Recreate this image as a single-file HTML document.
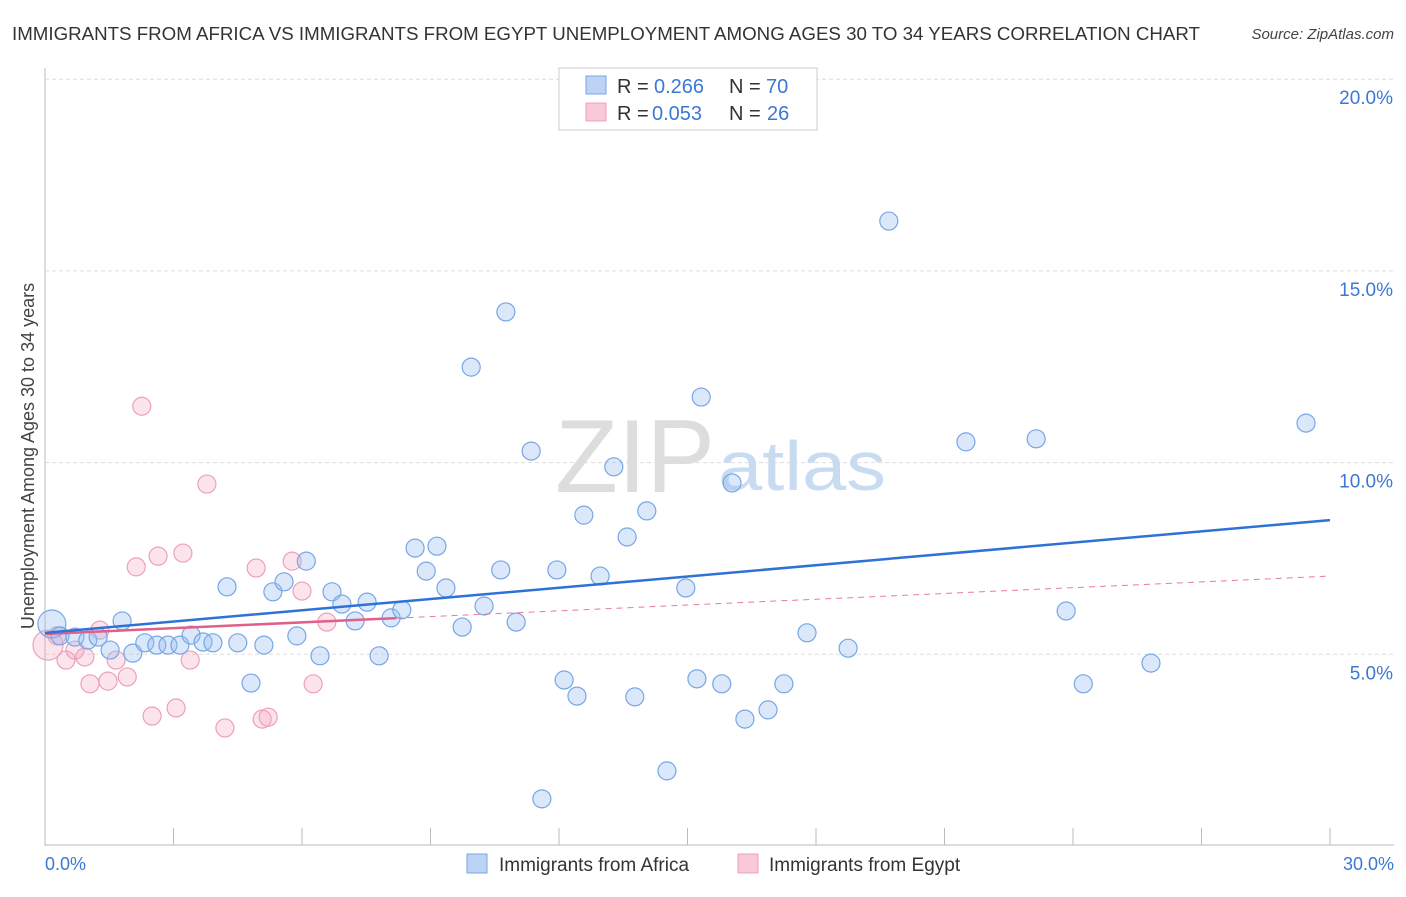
<!DOCTYPE html>
<html><head><meta charset="utf-8"><style>
body{margin:0;background:#fff;font-family:"Liberation Sans",sans-serif;}
svg text{font-family:"Liberation Sans",sans-serif;}
</style></head><body>
<svg width="1406" height="892" xmlns="http://www.w3.org/2000/svg">
<text x="12" y="40" font-size="18.6" fill="#333" textLength="1188" lengthAdjust="spacingAndGlyphs">IMMIGRANTS FROM AFRICA VS IMMIGRANTS FROM EGYPT UNEMPLOYMENT AMONG AGES 30 TO 34 YEARS CORRELATION CHART</text>
<text x="1394" y="39" font-size="15" font-style="italic" fill="#444" text-anchor="end">Source: ZipAtlas.com</text>
<g id="grid"></g>
<text x="715" y="492" font-size="104" font-family="Liberation Serif" fill="#ddd" text-anchor="end" textLength="160" lengthAdjust="spacingAndGlyphs">ZIP</text>
<text x="718" y="490" font-size="70" fill="#c9dbf0" textLength="168" lengthAdjust="spacingAndGlyphs">atlas</text>
<g id="pts"></g>
<g id="trend"></g>
<text transform="translate(34,456) rotate(-90)" font-size="18" fill="#444" text-anchor="middle">Unemployment Among Ages 30 to 34 years</text>
<text x="45" y="870" font-size="18" fill="#3b78d4">0.0%</text>
<text x="1394" y="870" font-size="18" fill="#3b78d4" text-anchor="end">30.0%</text>
<g>
<rect x="559" y="68" width="258" height="62" fill="#fff" stroke="#ccc"/>
<rect x="586" y="76" width="20" height="18" fill="#bcd3f5" stroke="#7aa6e8"/>
<rect x="586" y="103" width="20" height="18" fill="#f9c9d8" stroke="#eea0b8"/>
<text x="617" y="93" font-size="20" fill="#333">R =</text>
<text x="654" y="93" font-size="20" fill="#3b78d4">0.266</text>
<text x="729" y="93" font-size="20" fill="#333">N =</text>
<text x="766" y="93" font-size="20" fill="#3b78d4">70</text>
<text x="617" y="120" font-size="20" fill="#333">R =</text>
<text x="652" y="120" font-size="20" fill="#3b78d4">0.053</text>
<text x="729" y="120" font-size="20" fill="#333">N =</text>
<text x="767" y="120" font-size="20" fill="#3b78d4">26</text>
</g>
<g>
<rect x="467" y="854" width="20" height="19" fill="#bcd3f5" stroke="#7aa6e8"/>
<text x="499" y="871" font-size="19" fill="#333">Immigrants from Africa</text>
<rect x="738" y="854" width="20" height="19" fill="#f9c9d8" stroke="#eea0b8"/>
<text x="769" y="871" font-size="19" fill="#333">Immigrants from Egypt</text>
</g>
</svg>
<script>
const yTicks=[5,10,15,20];
const yTickLabels=["5.0%","10.0%","15.0%","20.0%"];
const africaX=[0.16,0.35,0.7,1.0,1.24,1.52,1.8,2.05,2.33,2.61,2.87,3.15,3.41,3.69,3.92,4.25,4.5,4.81,5.11,5.32,5.58,5.88,6.1,6.42,6.7,6.93,7.24,7.52,7.8,8.08,8.33,8.64,8.9,9.15,9.36,9.74,9.95,10.25,10.64,10.76,11.0,11.35,11.6,11.95,12.12,12.42,12.58,12.96,13.28,13.59,13.77,14.05,14.52,14.96,15.22,15.32,15.8,16.04,16.34,16.88,17.25,17.79,18.75,19.7,21.5,23.14,23.84,24.24,25.82,29.44];
const africaY=[5.79,5.48,5.45,5.37,5.45,5.11,5.87,5.03,5.3,5.24,5.24,5.24,5.5,5.32,5.3,6.76,5.3,4.25,5.24,6.63,6.89,5.48,7.43,4.96,6.63,6.31,5.87,6.36,4.96,5.95,6.16,7.77,7.17,7.82,6.73,5.71,12.49,6.26,7.2,13.93,5.84,10.3,1.23,7.2,4.33,3.91,8.63,7.04,9.89,8.06,3.89,8.74,1.96,6.73,4.36,11.71,4.23,9.47,3.31,3.55,4.23,5.56,5.16,16.3,10.54,10.62,6.13,4.23,4.77,11.03];
const egyptX=[0.07,0.28,0.49,0.7,0.93,1.05,1.28,1.47,1.66,1.92,2.13,2.26,2.5,2.64,3.06,3.22,3.39,3.78,4.2,4.93,5.07,5.21,5.77,6.0,6.26,6.58];
const egyptY=[5.24,5.48,4.85,5.11,4.93,4.23,5.63,4.3,4.85,4.41,7.28,11.47,3.39,7.56,3.6,7.64,4.85,9.44,3.08,7.25,3.31,3.36,7.43,6.65,4.23,5.84];
const africaTrend=[5.56,8.50];
const egyptTrend=[5.53,7.04];
const NS='http://www.w3.org/2000/svg';
const sx=v=>45+v/30*1285;
const sy=v=>846-v/5*191.7;
function mk(t,a,p){const e=document.createElementNS(NS,t);for(const k in a)e.setAttribute(k,a[k]);document.getElementById(p).appendChild(e);return e;}
const g=mk('line',{x1:45,y1:68,x2:45,y2:846,stroke:'#bbb'},'grid');


const xa=mk('line',{x1:45,y1:845,x2:1394,y2:845,stroke:'#bbb'},'grid');


for(let i=1;i<=10;i++){const t=mk('line',{x1:sx(i*3),y1:828,x2:sx(i*3),y2:845,stroke:'#bbb'},'grid');

}
yTicks.forEach((v,i)=>{const l=mk('line',{x1:45,y1:sy(v),x2:1393,y2:sy(v),stroke:'#ddd','stroke-dasharray':'4,3'},'grid');


const t=mk('text',{x:1393,y:sy(v)+25,'font-size':19,fill:'#3b78d4','text-anchor':'end'},'grid');t.textContent=yTickLabels[i];

});
egyptX.forEach((x,i)=>{const c=mk('circle',{cx:sx(x),cy:sy(egyptY[i]),r:i==0?15:9,fill:'rgba(245,165,195,0.3)',stroke:'#eea0b8','stroke-width':1.2},'pts');

});
africaX.forEach((x,i)=>{const c=mk('circle',{cx:sx(x),cy:sy(africaY[i]),r:i==0?14:9,fill:'rgba(150,190,240,0.35)',stroke:'#78a6e6','stroke-width':1.2},'pts');

});
const ed=mk('line',{x1:sx(0),y1:sy(egyptTrend[0]),x2:sx(30),y2:sy(egyptTrend[1]),stroke:'#e87a9e','stroke-width':1,'stroke-dasharray':'6,5'},'trend');


const es=mk('line',{x1:sx(0),y1:sy(egyptTrend[0]),x2:sx(8.2),y2:sy(egyptTrend[0]+(egyptTrend[1]-egyptTrend[0])*8.2/30),stroke:'#e0608a','stroke-width':2.5},'trend');


const at=mk('line',{x1:sx(0),y1:sy(africaTrend[0]),x2:sx(30),y2:sy(africaTrend[1]),stroke:'#2f72d6','stroke-width':2.5},'trend');


</script>
</body></html>
